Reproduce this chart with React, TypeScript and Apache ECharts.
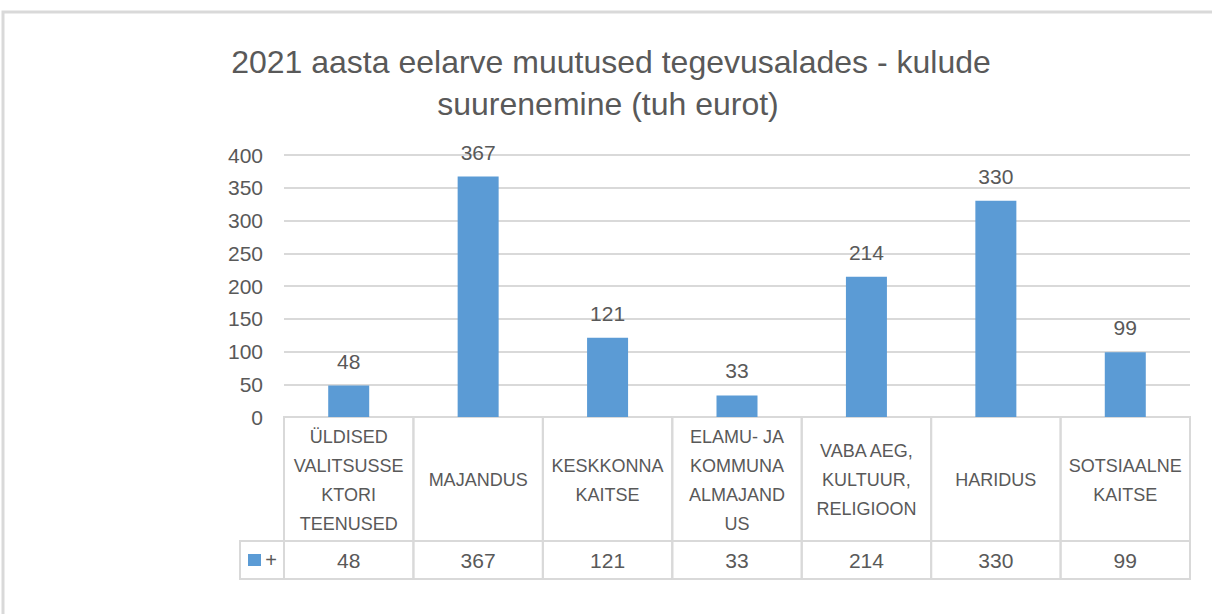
import React, { useEffect, useRef } from "react";
import * as echarts from "echarts";

const titleLine1 = "2021 aasta eelarve muutused tegevusalades - kulude";
const titleLine2 = "suurenemine (tuh eurot)";
const categories = [
  "ÜLDISED\nVALITSUSSE\nKTORI\nTEENUSED",
  "MAJANDUS",
  "KESKKONNA\nKAITSE",
  "ELAMU- JA\nKOMMUNA\nALMAJAND\nUS",
  "VABA AEG,\nKULTUUR,\nRELIGIOON",
  "HARIDUS",
  "SOTSIAALNE\nKAITSE",
];
const values = [48, 367, 121, 33, 214, 330, 99];
const seriesName = "+";

const FONT = '"Liberation Sans", Arial, sans-serif';
const TEXT = "#595959";
const LINE = "#d9d9d9";
const BLUE = "#5b9bd5";

export default function App() {
  const ref = useRef<HTMLDivElement>(null);
  useEffect(() => {
    if (!ref.current) return;
    const chart = echarts.init(ref.current, null, { renderer: "svg" });
    const headerH = 124;
    const tableH = 162;
    chart.setOption({
      animation: false,
      backgroundColor: "#ffffff",
      textStyle: { fontFamily: FONT },
      grid: [
        { left: 284, top: 155, width: 906, height: 262 },
        { left: 284, top: 417, width: 906, height: tableH },
      ],
      xAxis: [
        {
          type: "category",
          gridIndex: 0,
          data: categories,
          axisLine: { show: true, lineStyle: { color: LINE, width: 2 } },
          axisTick: { show: false },
          axisLabel: { show: false },
        },
        {
          type: "category",
          gridIndex: 1,
          data: categories,
          axisLine: { show: false },
          axisTick: { show: false },
          axisLabel: { show: false },
        },
      ],
      yAxis: [
        {
          type: "value",
          gridIndex: 0,
          min: 0,
          max: 400,
          interval: 50,
          axisLine: { show: false },
          axisTick: { show: false },
          axisLabel: { color: TEXT, fontSize: 21, fontFamily: FONT, margin: 21 },
          splitLine: { lineStyle: { color: LINE, width: 2 } },
        },
        {
          type: "value",
          gridIndex: 1,
          min: 0,
          max: tableH,
          inverse: true,
          show: false,
          splitLine: { show: false },
        },
      ],
      series: [
        {
          name: seriesName,
          type: "bar",
          xAxisIndex: 0,
          yAxisIndex: 0,
          data: values,
          barWidth: 41,
          itemStyle: { color: BLUE },
          label: {
            show: true,
            position: "top",
            distance: 14,
            color: TEXT,
            fontSize: 21,
            fontFamily: FONT,
          },
        },
        {
          type: "custom",
          xAxisIndex: 1,
          yAxisIndex: 1,
          data: values.map((v, i) => [i, v]),
          renderItem: (params: any, api: any) => {
            const idx = api.value(0);
            const val = api.value(1);
            const c0 = api.coord([idx, 0]);
            const c1 = api.coord([idx, headerH]);
            const c2 = api.coord([idx, tableH]);
            const w = api.size([1, 0])[0];
            const x0 = c0[0] - w / 2;
            return {
              type: "group",
              children: [
                {
                  type: "rect",
                  shape: { x: x0, y: c0[1], width: w, height: c1[1] - c0[1] },
                  style: { fill: "none", stroke: LINE, lineWidth: 2 },
                },
                {
                  type: "rect",
                  shape: { x: x0, y: c1[1], width: w, height: c2[1] - c1[1] },
                  style: { fill: "none", stroke: LINE, lineWidth: 2 },
                },
                {
                  type: "text",
                  style: {
                    text: categories[idx],
                    x: c0[0],
                    y: (c0[1] + c1[1]) / 2 + 1,
                    align: "center",
                    verticalAlign: "middle",
                    fill: TEXT,
                    fontSize: 18,
                    fontFamily: FONT,
                    lineHeight: 29,
                  },
                },
                {
                  type: "text",
                  style: {
                    text: String(val),
                    x: c0[0],
                    y: (c1[1] + c2[1]) / 2,
                    align: "center",
                    verticalAlign: "middle",
                    fill: TEXT,
                    fontSize: 21,
                    fontFamily: FONT,
                  },
                },
              ],
            };
          },
        },
      ],
      graphic: [
        {
          type: "rect",
          shape: { x: 3, y: 12, width: 1300, height: 700 },
          style: { fill: "none", stroke: LINE, lineWidth: 3 },
          silent: true,
        },
        {
          type: "text",
          x: 611,
          y: 62,
          style: {
            text: titleLine1,
            align: "center",
            verticalAlign: "middle",
            fill: TEXT,
            fontSize: 32,
            fontFamily: FONT,
          },
        },
        {
          type: "text",
          x: 608,
          y: 104,
          style: {
            text: titleLine2,
            align: "center",
            verticalAlign: "middle",
            fill: TEXT,
            fontSize: 32,
            fontFamily: FONT,
          },
        },
        {
          type: "rect",
          shape: { x: 240, y: 541, width: 44, height: 38 },
          style: { fill: "none", stroke: LINE, lineWidth: 2 },
        },
        {
          type: "rect",
          shape: { x: 248, y: 554, width: 13, height: 12 },
          style: { fill: BLUE },
        },
        {
          type: "text",
          x: 271,
          y: 560,
          style: {
            text: seriesName,
            align: "center",
            verticalAlign: "middle",
            fill: TEXT,
            fontSize: 20,
            fontFamily: FONT,
          },
        },
      ],
    });
    return () => chart.dispose();
  }, []);
  return (
    <div
      ref={ref}
      style={{ position: "fixed", left: 0, top: 0, width: 1212, height: 614 }}
    />
  );
}
